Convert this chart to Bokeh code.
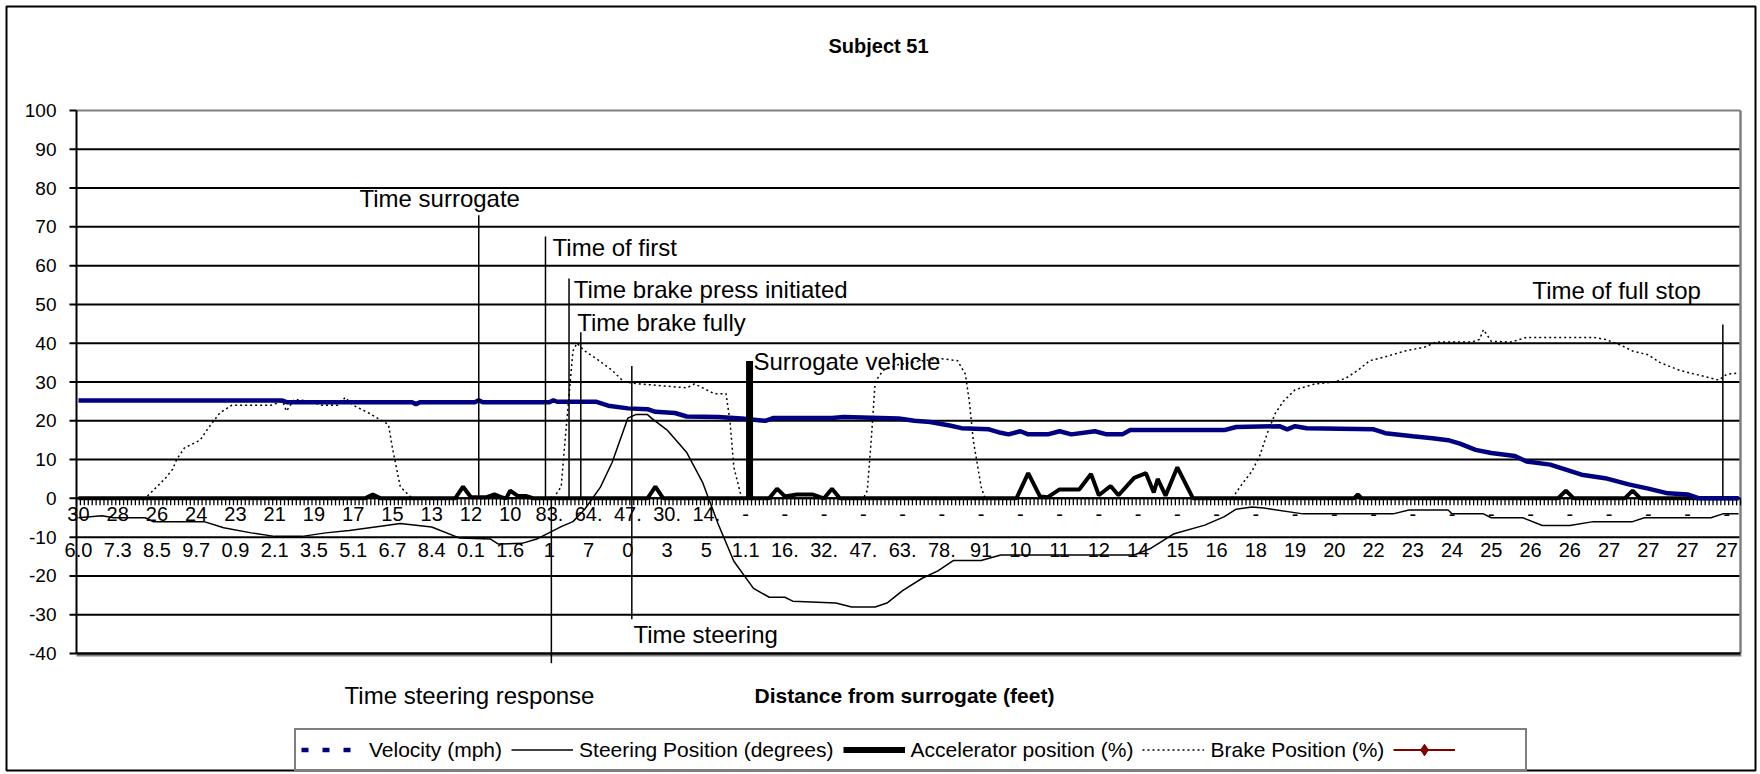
from bokeh.plotting import figure
from bokeh.models import Range1d, Legend, LegendItem
from bokeh.core.properties import value
from bokeh.embed import file_html
from bokeh.resources import INLINE

FONT = "Liberation Sans"
NAN = float("nan")

# ---------------- data ----------------
N_SAMPLES = 424          # number of categories on the x axis
LABEL_EVERY = 10         # a tick label every 10 categories
Y_TICKS = list(range(-40, 101, 10))

x_labels_top = ["30", "28", "26", "24", "23", "21", "19", "17", "15", "13", "12", "10",
                "83.", "64.", "47.", "30.", "14."] + ["-"] * 26
x_labels_bottom = ["6.0", "7.3", "8.5", "9.7", "0.9", "2.1", "3.5", "5.1", "6.7", "8.4", "0.1", "1.6",
                   "1", "7", "0", "3", "5", "1.1", "16.", "32.", "47.", "63.", "78.", "91",
                   "10", "11", "12", "14", "15", "16", "18", "19", "20", "22", "23", "24", "25",
                   "26", "26", "27", "27", "27", "27"]

velocity_idx = [0, 52, 53, 85, 86, 87, 101, 102, 103, 120, 121, 122, 132, 135, 140, 145, 147, 152,
                155, 163, 169, 175, 177, 192, 195, 209, 213, 217, 222, 225, 232, 235, 237, 240, 242,
                247, 250, 253, 259, 262, 266, 268, 292, 295, 306, 308, 310, 313, 330, 333, 340, 345,
                349, 352, 356, 360, 366, 369, 375, 379, 383, 389, 395, 400, 405, 410, 413, 423]
velocity_mph = [25.2, 25.2, 24.8, 24.8, 24.3, 24.8, 24.8, 25.3, 24.8, 24.8, 25.3, 24.9, 24.9, 23.9,
                23.2, 23.0, 22.3, 22.0, 21.1, 21.0, 20.6, 20.0, 20.7, 20.7, 21.0, 20.6, 20.0, 19.7,
                18.8, 18.1, 17.8, 16.9, 16.5, 17.3, 16.5, 16.5, 17.3, 16.5, 17.3, 16.5, 16.5, 17.6,
                17.6, 18.4, 18.6, 17.8, 18.6, 18.1, 17.8, 16.8, 16.0, 15.5, 15.0, 14.1, 12.5, 11.7,
                10.9, 9.5, 8.7, 7.4, 6.1, 5.2, 3.6, 2.5, 1.3, 1.0, 0.0, 0.0]

steering_idx = [0, 6, 9, 17, 19, 32, 37, 44, 50, 57, 63, 69, 77, 82, 90, 97, 105, 107, 113, 117, 123,
                126, 129, 133, 136, 140, 142, 145, 146, 150, 155, 159, 163, 167, 172, 176, 180, 182,
                193, 197, 203, 206, 210, 215, 219, 223, 230, 235, 269, 273, 279, 287, 292, 295, 299,
                302, 312, 335, 339, 349, 350, 358, 360, 368, 373, 380, 386, 396, 399, 416, 419, 423]
steering_deg = [-5.0, -4.5, -5.0, -5.0, -6.0, -6.0, -7.6, -8.9, -9.8, -9.8, -8.9, -8.3, -7.2, -6.5,
                -7.4, -10.2, -10.5, -11.8, -11.6, -10.4, -7.3, -6.0, -2.8, 2.9, 9.3, 20.7, 21.6, 21.6,
                20.7, 17.6, 11.8, 4.2, -6.6, -16.2, -23.2, -25.5, -25.5, -26.5, -27.0, -28.0, -28.0,
                -27.0, -23.8, -20.6, -18.7, -16.0, -16.0, -14.6, -14.6, -13.0, -9.2, -6.9, -4.7, -2.8,
                -2.2, -2.5, -4.0, -4.0, -3.0, -3.0, -4.0, -4.0, -5.0, -5.0, -7.0, -7.0, -6.0, -6.0,
                -5.0, -5.0, -4.0, -4.0]

accel_idx = [0, 73, 75, 77, 96, 98, 100, 104, 106, 108, 109, 110, 112, 114, 116, 145, 147, 149, 176,
             178, 180, 183, 187, 189, 190, 192, 194, 239, 242, 245, 247, 250, 255, 258, 260, 263, 265,
             269, 272, 274, 275, 277, 280, 284, 325, 326, 327, 377, 379, 381, 394, 396, 398, 423]
accel_pct = [0, 0, 1, 0, 0, 3, 0.3, 0.3, 1, 0.2, 0, 2, 0.6, 0.6, 0, 0, 3, 0, 0, 2.5, 0.5, 1, 1, 0.3,
             0, 2.5, 0, 0, 6.5, 0.5, 0.3, 2.3, 2.3, 6.3, 0.8, 3.2, 0.8, 5.3, 6.5, 1.5, 5, 0.7, 8, 0,
             0, 1, 0, 0, 2, 0, 0, 2, 0, 0]

brake_idx = [0, 17, 19, 22, 24, 25, 27, 31, 33, 36, 39, 49, 52, 53, 55, 59, 62, 66, 68, 70, 74, 79,
             80, 82, 85, 121, 123, 124, 126, 127, 129, 132, 136, 139, 143, 149, 155, 157, 160, 162,
             165, 166, 167, 169, 200, 201, 202, 203, 205, 209, 215, 220, 224, 226, 227, 228, 230,
             231, 294, 296, 299, 301, 303, 305, 307, 310, 315, 320, 323, 326, 329, 333, 338, 343,
             346, 355, 357, 358, 360, 365, 369, 386, 389, 393, 396, 400, 403, 408, 412, 416, 418,
             420, 423]
brake_pct = [0, 0, 2, 5, 7.5, 10, 13, 15, 18, 22, 24, 24, 25, 22.5, 25.5, 25, 24, 24, 26, 24, 22, 19,
             13, 3, 0, 0, 3, 15, 38, 40, 38, 36, 33, 30, 29.5, 29, 28.5, 29.5, 28, 27, 27, 20, 8, 0,
             0, 2, 15, 30, 33, 34.5, 35.5, 36, 35.5, 32, 25, 15, 3, 0, 0, 3, 7, 11, 17, 22, 25, 28,
             29.5, 30, 31, 33, 35.5, 36.5, 38, 39, 40.3, 40.3, 41, 43.5, 40.5, 40.3, 41.5, 41.5, 41,
             39.5, 38, 37, 35, 33, 32, 31, 30.5, 32, 32.3]

event_labels = ["Time surrogate", "Time of first", "Time brake press initiated", "Time brake fully",
                "Time steering", "Time steering response", "Time of full stop"]
event_idx = [102, 119, 125, 128, 141, 120.5, 419]
event_low = [0, 0, 0, 0, -31.2, -42.5, 0]
event_high = [73.0, 67.5, 56.7, 42.8, 34.1, 0.5, 44.8]

surrogate_label = "Surrogate vehicle"
surrogate_idx = [171]
surrogate_high = [35.4]

# ---------------- layout (pixels) ----------------
W, H = 1758, 772
PLOT_L, PLOT_R, PLOT_T, PLOT_B = 76, 1740, 110, 653
N = N_SAMPLES
Y_MIN, Y_MAX = Y_TICKS[0], Y_TICKS[-1]
step_x = (PLOT_R - PLOT_L) / N
scale_y = (PLOT_B - PLOT_T) / (Y_MAX - Y_MIN)


def px_x(px):
    return -0.5 + (px - PLOT_L) / step_x


def px_y(py):
    return Y_MAX - (py - PLOT_T) / scale_y


p = figure(width=W, height=H, x_range=Range1d(px_x(0), px_x(W)), y_range=Range1d(px_y(H), px_y(0)),
           x_axis_type=None, y_axis_type=None, toolbar_location=None, output_backend="svg",
           title=None, min_border=0, min_border_left=0, min_border_right=0,
           min_border_top=0, min_border_bottom=0)
p.background_fill_color = "white"
p.border_fill_color = "white"
p.outline_line_color = None

X0, X1 = -0.5, N - 0.5

# outer chart border
p.quad(left=[px_x(6)], right=[px_x(1755)], top=[px_y(6)], bottom=[px_y(770)],
       fill_color=None, line_color="black", line_width=2)

# horizontal gridlines
grid_vals = [t for t in Y_TICKS if Y_MIN < t < Y_MAX]
p.segment(x0=[X0] * len(grid_vals), y0=grid_vals, x1=[X1] * len(grid_vals), y1=grid_vals,
          line_color="black", line_width=2)
# plot-area border: grey top and right, black bottom with grey shadow
p.segment(x0=[X0], y0=[Y_MAX], x1=[X1], y1=[Y_MAX], line_color="#808080", line_width=2)
p.segment(x0=[X1], y0=[Y_MIN], x1=[X1], y1=[Y_MAX], line_color="#808080", line_width=2.5)
p.segment(x0=[X0], y0=[Y_MIN - 2 / scale_y], x1=[X1 + 1 / step_x], y1=[Y_MIN - 2 / scale_y],
          line_color="#808080", line_width=2)
p.segment(x0=[X0], y0=[Y_MIN], x1=[X1], y1=[Y_MIN], line_color="black", line_width=2.5)

# y axis: line, ticks and labels
p.segment(x0=[X0], y0=[Y_MIN], x1=[X0], y1=[Y_MAX], line_color="black", line_width=2)
p.segment(x0=[px_x(PLOT_L - 7)] * len(Y_TICKS), y0=Y_TICKS, x1=[X0] * len(Y_TICKS), y1=Y_TICKS,
          line_color="black", line_width=2)
p.text(x=[px_x(56)] * len(Y_TICKS), y=Y_TICKS, text=[str(t) for t in Y_TICKS], text_align="right",
       text_baseline="middle", text_font=value(FONT), text_font_size="19px", text_color="black")

# x (category) axis crossing at zero, with a tick between categories
p.segment(x0=[X0], y0=[0], x1=[X1], y1=[0], line_color="black", line_width=2)
tick_x = [i - 0.5 for i in range(N + 1)]
p.segment(x0=tick_x, y0=[0] * len(tick_x), x1=tick_x, y1=[-7 / scale_y] * len(tick_x),
          line_color="black", line_width=1.3)

label_x = [k * LABEL_EVERY for k in range(len(x_labels_top))]
p.text(x=label_x, y=[-4.0] * len(label_x), text=x_labels_top, text_align="center",
       text_baseline="middle", text_font=value(FONT), text_font_size="20px", text_color="black")
p.text(x=label_x, y=[-13.3] * len(label_x), text=x_labels_bottom, text_align="center",
       text_baseline="middle", text_font=value(FONT), text_font_size="20px", text_color="black")

# series
r_brake = p.line(brake_idx, brake_pct, line_color="black", line_width=1.5, line_dash="2 3")
r_steer = p.line(steering_idx, steering_deg, line_color="black", line_width=1.5)
r_acc = p.line(accel_idx, accel_pct, line_color="black", line_width=4)
r_vel = p.line(velocity_idx, velocity_mph, line_color="#000080", line_width=4.5)

# surrogate vehicle bar
p.segment(x0=surrogate_idx, y0=[0], x1=surrogate_idx, y1=surrogate_high,
          line_color="black", line_width=7)

# event lines
p.segment(x0=event_idx, y0=event_low, x1=event_idx, y1=event_high, line_color="black", line_width=1.5)

# annotation texts
ann = [("Time surrogate", 71.6, 77.3, "left"),
       ("Time of first", 120.8, 64.8, "left"),
       ("Time brake press initiated", 126.2, 53.8, "left"),
       ("Time brake fully", 127.1, 45.4, "left"),
       (surrogate_label, 172.0, 35.3, "left"),
       ("Time steering", 141.4, -35.0, "left"),
       ("Time of full stop", 413.4, 53.5, "right")]
for txt, ax, ay, al in ann:
    p.text(x=[ax], y=[ay], text=[txt], text_align=al, text_baseline="middle",
           text_font=value(FONT), text_font_size="24px", text_color="black")

p.text(x=[px_x(469)], y=[px_y(695)], text=["Time steering response"], text_align="center",
       text_baseline="middle", text_font=value(FONT), text_font_size="24px", text_color="black")
p.text(x=[px_x(878)], y=[px_y(45)], text=["Subject 51"], text_align="center", text_baseline="middle",
       text_font=value(FONT), text_font_size="20px", text_font_style="bold", text_color="black")
p.text(x=[px_x(904)], y=[px_y(695)], text=["Distance from surrogate (feet)"], text_align="center",
       text_baseline="middle", text_font=value(FONT), text_font_size="21px",
       text_font_style="bold", text_color="black")

# legend sample glyphs (styled like the original legend; they draw nothing in the plot)
lg_vel = p.line([NAN], [NAN], line_color="#000080", line_width=4.5, line_dash="7 14")
lg_acc = p.line([NAN], [NAN], line_color="black", line_width=6)
lg_brake = p.line([NAN], [NAN], line_color="black", line_width=1.5, line_dash="2 3")
lg_red = p.line([NAN], [NAN], line_color="#800000", line_width=2)
lg_red_pt = p.scatter([NAN], [NAN], marker="diamond", size=11, fill_color="#800000",
                      line_color="#800000")

legend = Legend(items=[LegendItem(label="Velocity (mph)", renderers=[lg_vel]),
                       LegendItem(label="Steering Position (degrees)", renderers=[r_steer]),
                       LegendItem(label="Accelerator position (%)", renderers=[lg_acc]),
                       LegendItem(label="Brake Position (%)", renderers=[lg_brake]),
                       LegendItem(label="\u00a0" * 10, renderers=[lg_red, lg_red_pt])],
                orientation="horizontal", location=(294, 1),
                glyph_width=62, glyph_height=29, label_height=29, label_standoff=6, spacing=9,
                padding=5, margin=0, label_text_font=FONT, label_text_font_size="21px",
                label_text_color="black", label_text_baseline="middle",
                border_line_color="black", border_line_width=2,
                background_fill_color="white", background_fill_alpha=1.0)
p.add_layout(legend)

open("out.html", "w").write(file_html(p, INLINE))
